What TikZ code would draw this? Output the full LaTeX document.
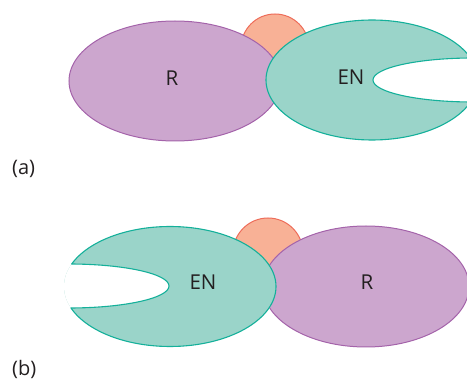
\documentclass[tikz,border=0pt]{standalone}
\usepackage{fontspec}
\setmainfont{Open Sans}
\definecolor{rfill}{HTML}{CCA6CE}
\definecolor{rline}{HTML}{A463AA}
\definecolor{enfill}{HTML}{9AD4C9}
\definecolor{enline}{HTML}{14B09A}
\definecolor{cfill}{HTML}{F8B196}
\definecolor{cline}{HTML}{EE6D5A}
\definecolor{ink}{HTML}{231F20}
\tikzset{
  rbody/.style={fill=rfill, draw=rline, line width=1pt},
  cofactor/.style={fill=cfill, draw=cline, line width=1pt},
  label/.style={text=ink, font=\fontsize{20.5}{24}\selectfont, inner sep=0pt, anchor=base},
  panel/.style={text=ink, font=\fontsize{20}{24}\selectfont, inner sep=0pt, anchor=base west},
}
% enzyme body: an ellipse with an elliptical notch cut into one side
% #1 body centre, #2 notch centre
\newcommand{\enzymebody}[2]{%
  \begin{scope}
    \clip #1 ellipse [x radius=106, y radius=60];
    \fill[enfill] #1 ellipse [x radius=106, y radius=60];
    \fill[white] #2 ellipse [x radius=100, y radius=22];
    \draw[enline, line width=1.1pt] #2 ellipse [x radius=100, y radius=22];
  \end{scope}
  \begin{scope}[even odd rule]
    \clip (-20,-20) rectangle (500,420) #2 ellipse [x radius=100, y radius=22];
    \draw[enline, line width=1.1pt] #1 ellipse [x radius=106, y radius=60];
  \end{scope}
}
\begin{document}
\begin{tikzpicture}[x=1pt, y=1pt]
  \useasboundingbox (0,0) rectangle (467,381);

  % ---- (a) ----
  \draw[cofactor] (275,333) circle [radius=34];
  \draw[rbody] (175,300) ellipse [x radius=106, y radius=60];
  \enzymebody{(372,301)}{(473,301)}
  \node[label] (ra) at (172,295) {R};
  \node[label] (ena) at (351,296) {EN};
  \node[panel] (pa) at (12,206) {(a)};

  % ---- (b) ----
  \draw[cofactor] (268,128) circle [radius=35];
  \draw[rbody] (366,94.5) ellipse [x radius=103, y radius=60.5];
  \enzymebody{(170,94.5)}{(69,95)}
  \node[label] (enb) at (203,91) {EN};
  \node[label] (rb) at (367,91) {R};
  \node[panel] (pb) at (12,5.5) {(b)};
\end{tikzpicture}
\end{document}
